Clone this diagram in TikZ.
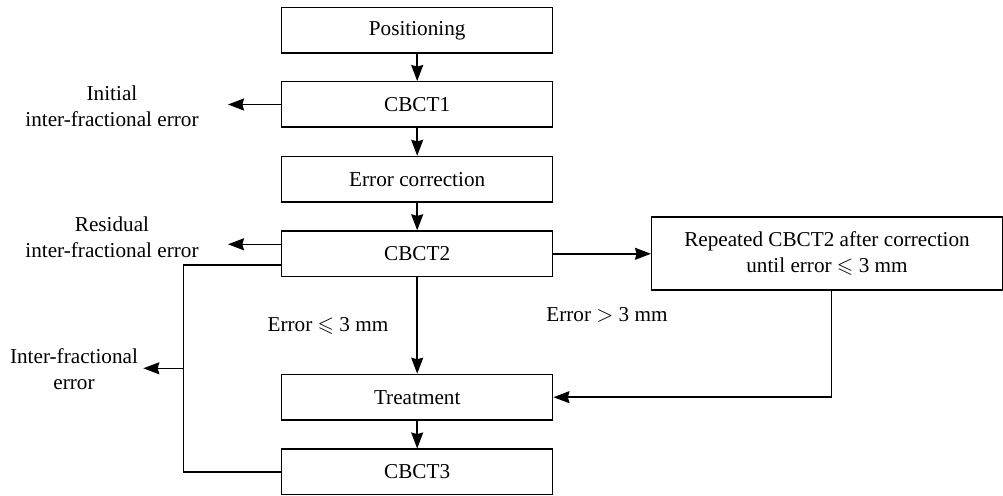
\documentclass[tikz,border=0pt]{standalone}
\usepackage{amssymb}
\usepackage{fontspec}
\setmainfont{Liberation Serif}
\usetikzlibrary{arrows.meta}

\begin{document}
\begin{tikzpicture}[x=0.5pt,y=-0.5pt,line width=0.75pt,
    font=\fontsize{10.6}{12.8}\selectfont,
    stepbox/.style={draw,minimum width=135.5pt,minimum height=22.75pt,inner sep=0pt},
    arr/.style={-{Stealth[length=8pt,width=6pt,inset=0.8pt]}},
    lbl/.style={align=center,inner sep=0pt}]
        \useasboundingbox (0,0) rectangle (1003,496);

        \node[stepbox] (pos) at (417.2,30.3) {Positioning};
        \node[stepbox] (cbct1) at (417.2,104.5) {CBCT1};
        \node[stepbox] (corr) at (417.2,179.3) {Error correction};
        \node[stepbox] (cbct2) at (417.2,253.8) {CBCT2};
        \node[stepbox] (treat) at (417.2,397.2) {Treatment};
        \node[stepbox] (cbct3) at (417.2,472) {CBCT3};
        \node[draw,minimum width=175.3pt,minimum height=36.5pt,lbl] (rep) at (827,253.6)
            {Repeated CBCT2 after correction\\until error $\leqslant$ 3 mm};

        \node[lbl] (initlbl) at (112,106) {Initial\\inter-fractional error};
        \node[lbl] (reslbl) at (112,237) {Residual\\inter-fractional error};
        \node[lbl] (interlbl) at (74,369) {Inter-fractional\\error};
        \node[lbl] (lelbl) at (328,326) {Error $\leqslant$ 3 mm};
        \node[lbl] (gtlbl) at (607,315) {Error $>$ 3 mm};

        \coordinate (c1end) at (228,104.5);
        \coordinate (c2end) at (228,244.3);
        \coordinate (loopt) at (183.3,265);
        \coordinate (c3end) at (143.3,368.3);

        \draw[arr] (pos) -- (cbct1);
        \draw[arr] (cbct1) -- (corr);
        \draw[arr] (corr) -- (cbct2);
        \draw[arr] (cbct2) -- (treat);
        \draw[arr] (treat) -- (cbct3);

        \draw[arr] (cbct1.west) -- (c1end);
        \draw[arr] (cbct2.west |- c2end) -- (c2end);
        \draw (cbct2.west |- loopt) -- (loopt) |- (cbct3.west);
        \draw[arr] (loopt |- c3end) -- (c3end);

        \draw[arr] (cbct2.east) -- (rep.west |- cbct2.east);
        \draw[arr] ([xshift=2.25pt]rep.south) |- (treat.east);
\end{tikzpicture}
\end{document}
